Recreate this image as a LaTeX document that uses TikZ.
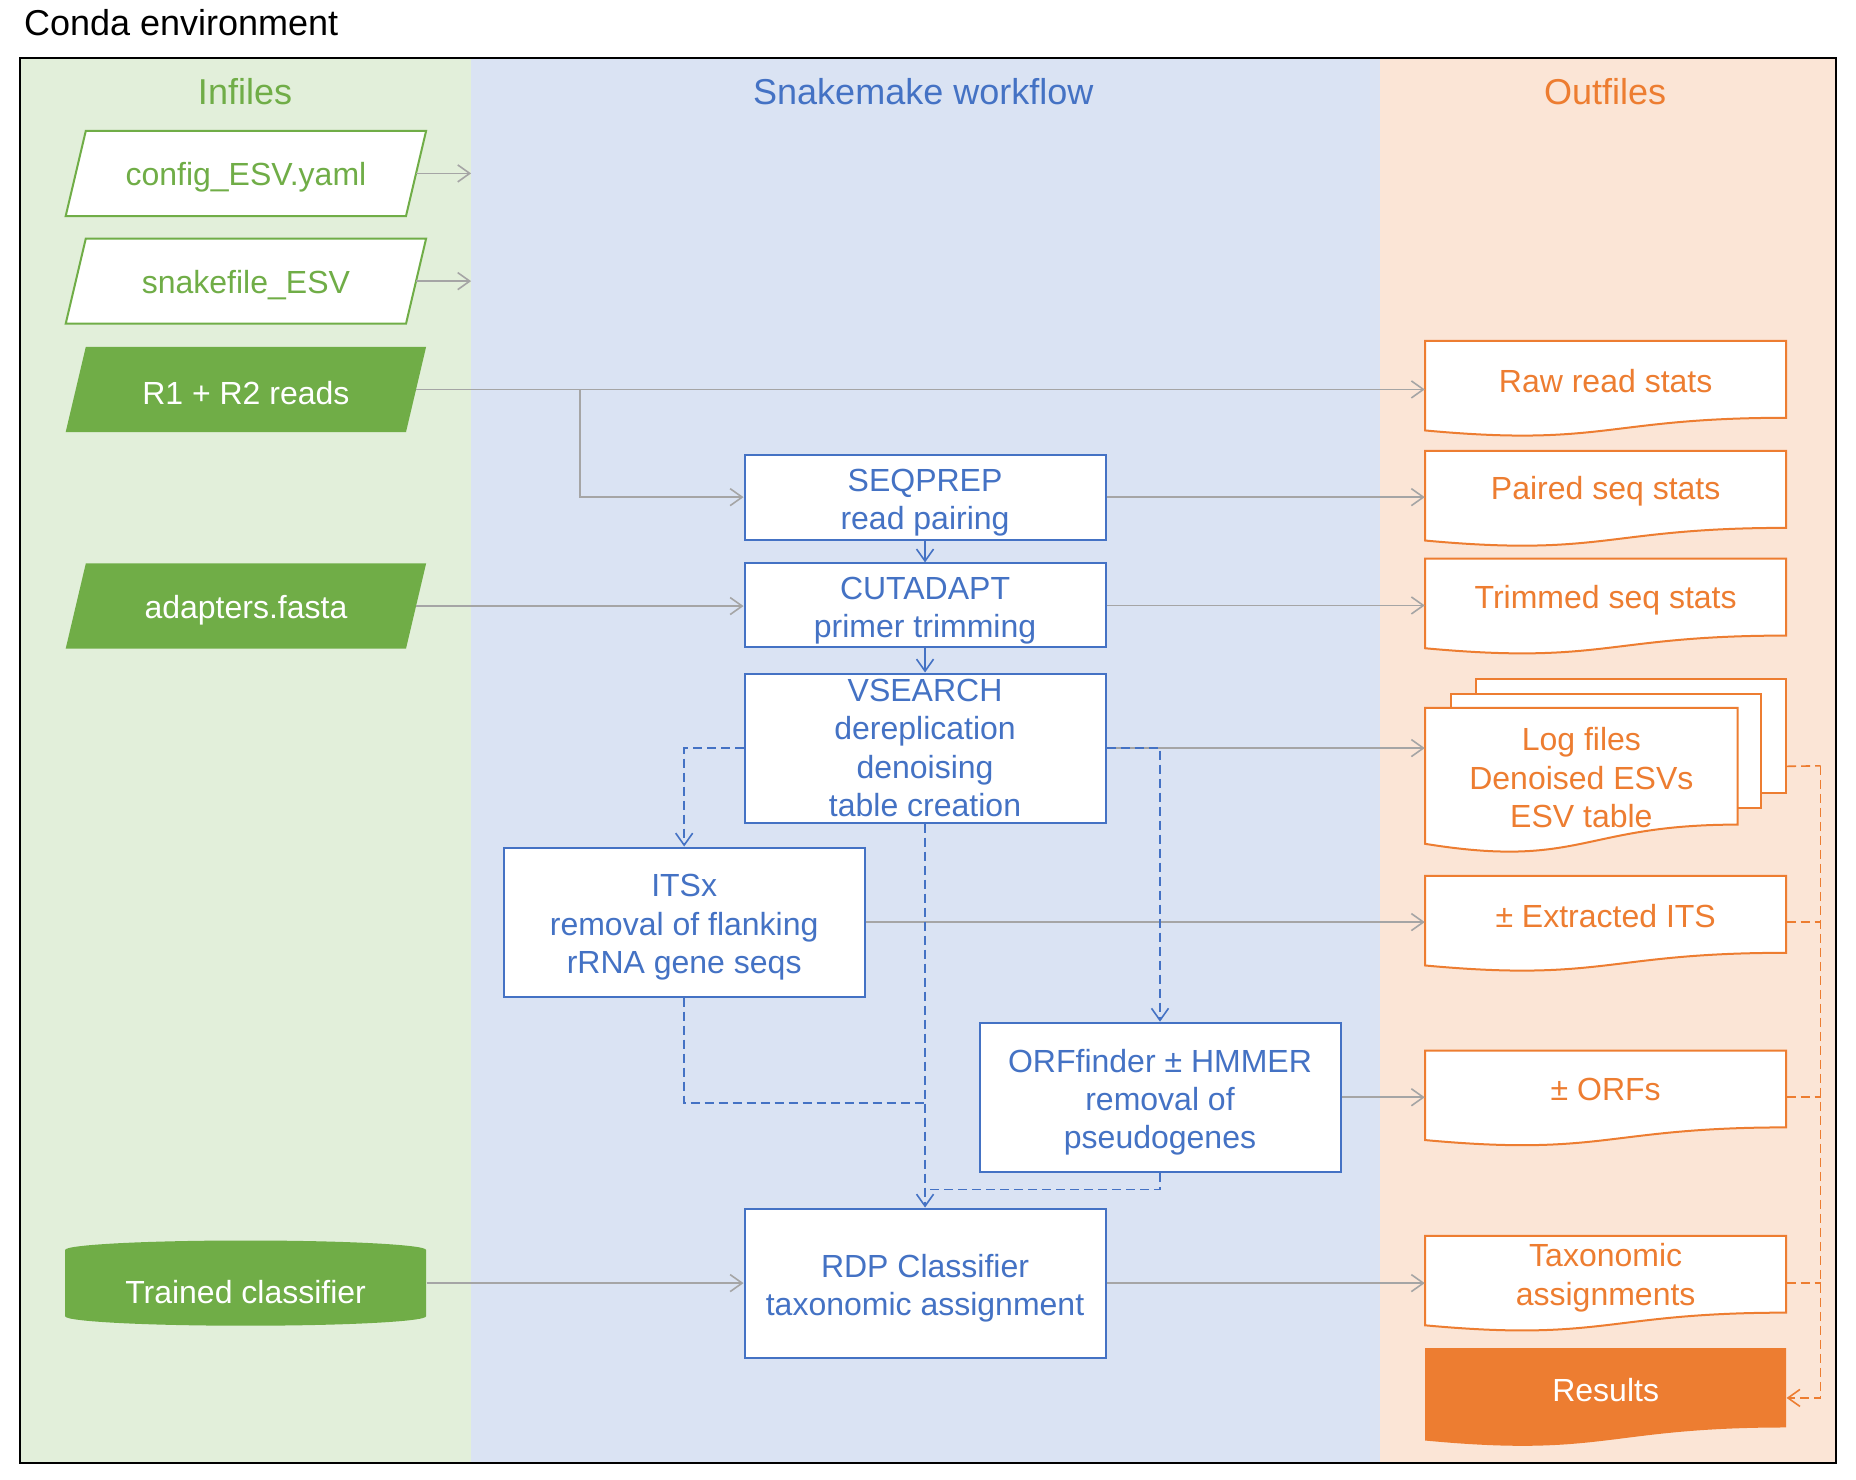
\documentclass[tikz,border=0pt]{standalone}
\usepackage{fontspec}
\setmainfont{Liberation Sans}
\usetikzlibrary{shapes.geometric,arrows.meta,calc}
\definecolor{gbg}{HTML}{E2EFDA}
\definecolor{bbg}{HTML}{DAE3F3}
\definecolor{obg}{HTML}{FBE5D6}
\definecolor{gr}{HTML}{70AD47}
\definecolor{bl}{HTML}{4472C4}
\definecolor{orc}{HTML}{ED7D31}
\definecolor{gry}{HTML}{A5A5A5}
\newcommand{\uu}{0.5918pt}
\newcommand{\fstrut}{\rule{0pt}{16.5pt}}
% wavy document outline: #1 left x, #2 right x, #3 top y, #4 height, #5 style
\newcommand{\docpath}[5]{%
  \path[#5] (#1,#3) -- (#2,#3) -- (#2,{#3+0.802*#4})
    .. controls ({(#1+#2)/2},{#3+0.802*#4}) and ({(#1+#2)/2},{#3+1.108*#4}) ..
    (#1,{#3+0.934*#4}) -- cycle;}
% parallelogram outline centred at (#1,#2): #3 style
\newcommand{\parapath}[3]{%
  \path[#3] ({#1-152.25},{#2+36}) -- ({#1-135.25},{#2-36}) -- ({#1+152.25},{#2-36})
    -- ({#1+135.25},{#2+36}) -- cycle;}
\begin{document}
\begin{tikzpicture}[x=0.5918pt, y=-0.5918pt,
  nfont/.style={font=\fontsize{16}{19.2}\selectfont},
  hfont/.style={font=\fontsize{18}{21}\selectfont},
  low/.style={execute at begin node={\rule{0pt}{15.5pt}}},
  paratext/.style={rectangle, minimum width=287.5*\uu, minimum height=72*\uu,
    inner sep=0pt, nfont, low, align=center},
  paraline/.style={draw=gr, fill=white, line width=1pt},
  parafill/.style={fill=gr},
  proc/.style={rectangle, draw=bl, fill=white, line width=1pt, text=bl, nfont,
    align=center, inner sep=0pt, minimum width=305*\uu},
  docshape/.style={draw=orc, fill=white, line width=1pt},
  docback/.style={rectangle, draw=orc, fill=white, line width=1pt, inner sep=0pt},
  doctext/.style={text=orc, nfont, align=center, inner sep=0pt, minimum width=305*\uu},
  tipb/.style={-{Straight Barb[length=6pt,width=8.5pt]}},
  garrow/.style={draw=gry, line width=0.8pt, tipb},
  barrow/.style={draw=bl, line width=0.8pt, tipb},
  bdash/.style={draw=bl, line width=0.8pt, dash pattern=on 4.5pt off 2.5pt},
  odash/.style={draw=orc, line width=0.8pt, dash pattern=on 4.5pt off 2.5pt},
]
\useasboundingbox (0,0) rectangle (1568,1250);
\fill[white] (0,0) rectangle (1568,1250);
% columns
\fill[gbg] (17,49) rectangle (398,1236);
\fill[bbg] (398,49) rectangle (1166,1236);
\fill[obg] (1166,49) rectangle (1551,1236);
\draw[black, line width=1pt] (17,49) rectangle (1551,1236);

\node[hfont, anchor=base west, inner sep=0pt] (title) at (20,30) {Conda environment};
\node[hfont, text=gr, anchor=base, inner sep=0pt] (hin) at (207,88) {Infiles};
\node[hfont, text=bl, anchor=base, inner sep=0pt] (hwf) at (780,88) {Snakemake workflow};
\node[hfont, text=orc, anchor=base, inner sep=0pt] (hout) at (1356,88) {Outfiles};

\coordinate (wfleft) at (398,0);
\coordinate (split) at (490,329);

% inputs
\parapath{207.75}{146.5}{paraline}
\node[paratext, text=gr] (cfg) at (207.75,146.5) {config\_ESV.yaml};
\parapath{207.75}{237.5}{paraline}
\node[paratext, text=gr] (snk) at (207.75,237.5) {snakefile\_ESV};
\parapath{207.75}{329}{parafill}
\node[paratext, text=white] (r1) at (207.75,329) {R1 + R2 reads};
\parapath{207.75}{512}{parafill}
\node[paratext, text=white] (adp) at (207.75,512) {adapters.fasta};
\fill[gr] (55,1056) -- (55,1112)
  arc[start angle=180, end angle=360, x radius=152.5*\uu, y radius=8*\uu]
  -- (360,1056)
  arc[start angle=0, end angle=180, x radius=152.5*\uu, y radius=8*\uu] -- cycle;
\node[nfont, low, text=white, inner sep=0pt, minimum width=305*\uu, minimum height=60*\uu] (tc) at (207.5,1088) {Trained classifier};

% processes
\node[proc, minimum height=72*\uu] (seq) at (781.5,420) {\fstrut SEQPREP\\read pairing};
\node[proc, minimum height=71*\uu] (cut) at (781.5,511.5) {\fstrut CUTADAPT\\primer trimming};
\node[proc, minimum height=126*\uu] (vs) at (781.5,632) {VSEARCH\\dereplication\\denoising\\table creation};
\node[proc, minimum height=126*\uu] (its) at (578,779) {\fstrut ITSx\\removal of flanking\\rRNA gene seqs};
\node[proc, minimum height=126*\uu] (orf) at (980,927) {\fstrut ORFfinder ± HMMER\\removal of\\pseudogenes};
\node[proc, minimum height=126*\uu] (rdp) at (781.5,1084) {\fstrut RDP Classifier\\taxonomic assignment};

% outfiles
\docpath{1204}{1509}{288}{81}{docshape}
\node[doctext] (raw) at (1356.5,322) {Raw read stats};
\docpath{1204}{1509}{381}{81}{docshape}
\node[doctext] (pst) at (1356.5,415) {Paired seq stats};
\docpath{1204}{1509}{472}{81}{docshape}
\node[doctext] (trm) at (1356.5,507) {Trimmed seq stats};
\node[docback, minimum width=262*\uu, minimum height=96*\uu] (logback) at (1378,622) {};
\node[docback, minimum width=262*\uu, minimum height=97*\uu] (logmid) at (1357,634.5) {};
\docpath{1204}{1468}{598}{123}{docshape}
\node[doctext, minimum width=264*\uu] (logs) at (1336,657) {Log files\\Denoised ESVs\\ESV table};
\docpath{1204}{1509}{740}{81}{docshape}
\node[doctext] (ext) at (1356.5,774) {± Extracted ITS};
\docpath{1204}{1509}{887.5}{81}{docshape}
\node[doctext] (orfs) at (1356.5,920) {± ORFs};
\docpath{1204}{1509}{1044}{81}{docshape}
\node[doctext] (tax) at (1356.5,1079.5) {Taxonomic\\assignments};
\docpath{1204}{1509}{1139}{83.5}{fill=orc}
\node[doctext, text=white] (res) at (1356.5,1174) {Results};

% grey arrows
\draw[garrow] (cfg.east) -- (cfg.east -| wfleft);
\draw[garrow] (snk.east) -- (snk.east -| wfleft);
\draw[garrow] (r1.east) -- (r1.east -| raw.west);
\draw[garrow] (split) |- (seq.west);
\draw[garrow] (seq.east) -- (seq.east -| pst.west);
\draw[garrow] (adp.east) -- (adp.east -| cut.west);
\draw[garrow] (cut.east) -- (cut.east -| trm.west);
\draw[garrow] (vs.east) -- (vs.east -| logs.west);
\draw[garrow] (its.east) -- (its.east -| ext.west);
\draw[garrow] (orf.east) -- (orf.east -| orfs.west);
\draw[garrow] (tc.east |- rdp.west) -- (rdp.west);
\draw[garrow] (rdp.east) -- (rdp.east -| tax.west);

% blue arrows
\draw[barrow] (seq.south) -- (cut.north);
\draw[barrow] (cut.south) -- (vs.north);
\draw[bdash, tipb] (vs.west) -| (its.north);
\draw[bdash, tipb] (vs.east) -| (orf.north);
\draw[bdash, tipb] (vs.south) -- (rdp.north);
\draw[bdash] (its.south) |- (rdp.north |- 0,932);
\draw[bdash] (orf.south) |- (rdp.north |- 0,1005);

% orange collector
\coordinate (bustop) at (1538,647);
\coordinate (busbot) at (1538,1181);
\draw[odash] ($(logback.north east)!0.76!(logback.south east)$) -- (bustop);
\draw[odash] (ext.east |- its.east) -- (bustop |- its.east);
\draw[odash] (orfs.east |- orf.east) -- (bustop |- orf.east);
\draw[odash] (tax.east |- rdp.east) -- (bustop |- rdp.east);
\draw[odash, tipb] (bustop) -- (busbot) -- (res.east |- busbot);
\end{tikzpicture}
\end{document}
